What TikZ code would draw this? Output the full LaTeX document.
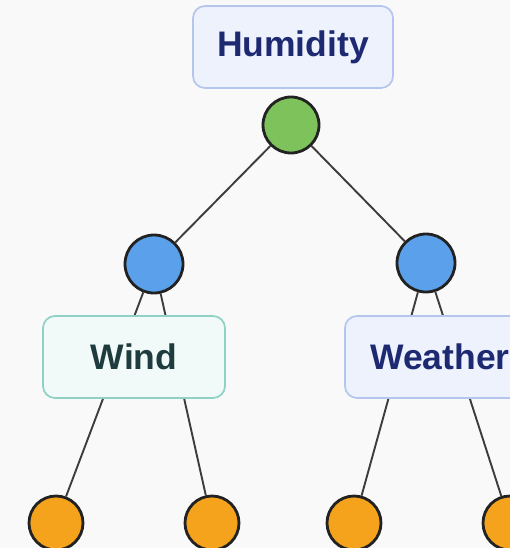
\documentclass[tikz,border=0pt]{standalone}
\usepackage{fontspec}
\setmainfont{Liberation Sans}
\definecolor{paper}{HTML}{F9F9F9}
\definecolor{edgegray}{HTML}{3C3C3C}
\definecolor{ringdark}{HTML}{222222}
\definecolor{leafgreen}{HTML}{7DC25A}
\definecolor{skyblue}{HTML}{5AA0EA}
\definecolor{amber}{HTML}{F5A31C}
\definecolor{bluefill}{HTML}{EEF2FD}
\definecolor{blueline}{HTML}{B5C6EE}
\definecolor{bluetext}{HTML}{1D2A72}
\definecolor{tealfill}{HTML}{F1FAF8}
\definecolor{tealline}{HTML}{8FD2C4}
\definecolor{tealtext}{HTML}{1E3B3D}
\begin{document}
\begin{tikzpicture}[x=1pt,y=-1pt,
  edge/.style={draw=edgegray, line width=1.9pt},
  ball/.style={circle, draw=ringdark, line width=2.8pt, inner sep=0pt},
  tag/.style={rounded corners=12pt, line width=1.7pt, inner sep=0pt,
    minimum height=82pt, font=\fontsize{35.5}{40}\selectfont\bfseries}
]
\useasboundingbox (0,0) rectangle (510,548);
\clip (0,0) rectangle (510,548);
\fill[paper] (0,0) rectangle (510,548);

% circles of the tree
\node[ball, fill=leafgreen, minimum size=56pt] (root) at (291,125) {};
\node[ball, fill=skyblue, minimum size=58pt] (left) at (154,264) {};
\node[ball, fill=skyblue, minimum size=58pt] (right) at (426,263) {};
\node[ball, fill=amber, minimum size=54pt] (ll) at (56,523) {};
\node[ball, fill=amber, minimum size=54pt] (lr) at (212,523) {};
\node[ball, fill=amber, minimum size=54pt] (rl) at (354,523) {};
\node[ball, fill=amber, minimum size=54pt] (rr) at (510,523) {};

% connectors
\draw[edge] (root) -- (left);
\draw[edge] (root) -- (right);
\draw[edge] (left) -- (ll);
\draw[edge] (left) -- (lr);
\draw[edge] (right) -- (rl);
\draw[edge] (right) -- (rr);

% labels sitting over the connectors
\node[tag, draw=blueline, fill=bluefill, text=bluetext, minimum width=200pt] (humidity) at (293,47) {Humidity};
\node[tag, draw=tealline, fill=tealfill, text=tealtext, minimum width=182pt] (wind) at (134,357) {Wind};
\node[tag, draw=blueline, fill=bluefill, text=bluetext, minimum width=190pt] (weather) at (440,357) {Weather};
\end{tikzpicture}
\end{document}
